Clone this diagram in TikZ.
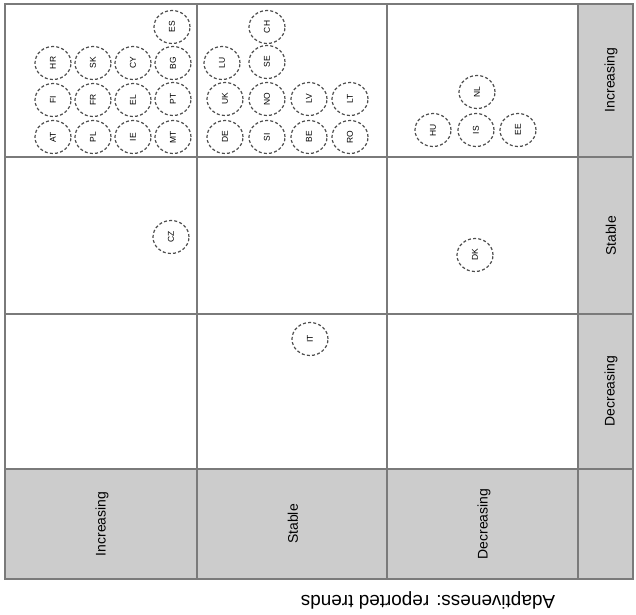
\documentclass[tikz,border=0pt]{standalone}
\usepackage{fontspec}
\setmainfont{Liberation Sans}
\usetikzlibrary{shapes.geometric}
\definecolor{gridc}{HTML}{7A7A7A}
\definecolor{hdrfill}{HTML}{CCCCCC}
\definecolor{dashc}{HTML}{4D4D4D}
\newcommand\ctry[2]{\node[cc] (#1) at (#2) {\rotatebox{90}{#1}};}
\begin{document}
\begin{tikzpicture}[x=1bp,y=-1bp,
  cc/.style={ellipse, draw=dashc, dash pattern=on 3bp off 2.2bp, line width=1.2bp,
    minimum width=36bp, minimum height=33bp, inner sep=0pt,
    font=\fontsize{8.5}{9}\selectfont},
  hdr/.style={rotate=90, inner sep=0pt, font=\fontsize{14}{16}\selectfont},
  gridline/.style={draw=gridc, line width=1.3bp}]
\useasboundingbox (0,0) rectangle (636,615);
\fill[hdrfill] (578,4) rectangle (633,579);
\fill[hdrfill] (5,469) rectangle (633,579);
\draw[gridline] (5,4) rectangle (633,579);
\foreach \x in {197,387,578} \draw[gridline] (\x,4) -- (\x,579);
\foreach \y in {157,314,469} \draw[gridline] (5,\y) -- (633,\y);
% row headers (right column)
\node[hdr] (rInc) at (611,80) {Increasing};
\node[hdr] (rSta) at (611,236) {Stable};
\node[hdr] (rDec) at (611,391) {Decreasing};
% column headers (bottom row)
\node[hdr] (cInc) at (102,524) {Increasing};
\node[hdr] (cSta) at (293,524) {Stable};
\node[hdr] (cDec) at (484,524) {Decreasing};
% axis title
\node[rotate=180, inner sep=0pt, font=\fontsize{19}{22}\selectfont] (title) at (428,600) {Adaptiveness: reported trends};
% cell 1
\ctry{ES}{172,27}
\ctry{HR}{53,63}
\ctry{SK}{93,63}
\ctry{CY}{133,63}
\ctry{BG}{173,63}
\ctry{FI}{53,100}
\ctry{FR}{93,100}
\ctry{EL}{133,100}
\ctry{PT}{173,99}
\ctry{AT}{53,137}
\ctry{PL}{93,137}
\ctry{IE}{133,137}
\ctry{MT}{173,137}
% cell 2
\ctry{CH}{267,27}
\ctry{LU}{222,63}
\ctry{SE}{267,62}
\ctry{UK}{225,99}
\ctry{NO}{267,99}
\ctry{LV}{309,99}
\ctry{LT}{350,99}
\ctry{DE}{225,137}
\ctry{SI}{267,137}
\ctry{BE}{309,137}
\ctry{RO}{350,137}
% cell 3
\ctry{NL}{477,92}
\ctry{HU}{433,130}
\ctry{IS}{476,130}
\ctry{EE}{518,130}
% other rows
\ctry{CZ}{171,237}
\ctry{DK}{475,255}
\ctry{IT}{310,339}
\end{tikzpicture}
\end{document}
